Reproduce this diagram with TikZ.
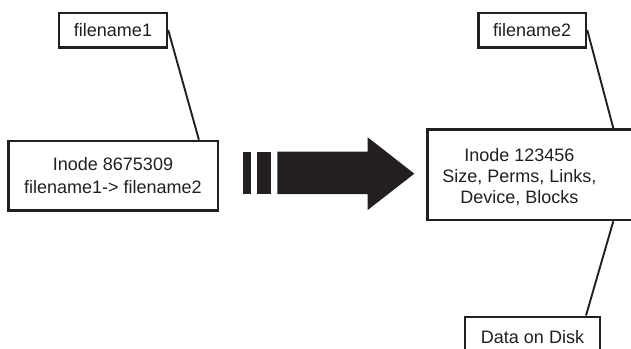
\documentclass[tikz,border=0pt]{standalone}
\usepackage{fontspec}
\setmainfont{Liberation Sans}
\definecolor{ink}{HTML}{231F20}
\begin{document}
\begin{tikzpicture}[x=1pt,y=-1pt,
  box/.style={draw=ink,line width=2.4pt,fill=white,inner sep=0pt,text=ink,font=\fontsize{18}{21}\selectfont,align=center},
  link/.style={draw=ink,line width=1.9pt},
  txt/.style={text=ink,inner sep=0pt,font=\fontsize{18}{21}\selectfont,align=center}]
\useasboundingbox (0,0) rectangle (631,348);
% left side
\node[box,minimum width=108pt,minimum height=34.6pt] (f1) at (113,30) {filename1};
\node[box,minimum width=209.4pt,minimum height=69.7pt,font=\fontsize{18}{22.5}\selectfont] (i1) at (113,175.8) {Inode 8675309\\filename1-> filename2};
\draw[link] (f1.east) -- ([xshift=-20pt]i1.north east);
% arrow
\fill[ink] (242.7,151.7) rectangle (251,194);
\fill[ink] (256.7,151.7) rectangle (271,194);
\fill[ink] (277.3,151.7) -- (367.7,151.7) -- (367.7,137.3) -- (414.3,173.7) -- (367.7,210) -- (367.7,194) -- (277.3,194) -- cycle;
% right side
\node[box,minimum width=107.7pt,minimum height=34.6pt] (f2) at (532.2,30) {filename2};
\node[box,minimum width=212.3pt,minimum height=90.7pt] (i2) at (533.8,174.7) {};
\node[txt] (i2t) at (519.3,177.3) {Inode 123456\\Size, Perms, Links,\\Device, Blocks};
\node[box,minimum width=135pt,minimum height=40pt] (d) at (532.5,336.7) {Data on Disk};
\draw[link] (f2.east) -- ([xshift=79.5pt]i2.north);
\draw[link] ([xshift=79.5pt]i2.south) -- ([xshift=53.5pt]d.north);
\end{tikzpicture}
\end{document}
